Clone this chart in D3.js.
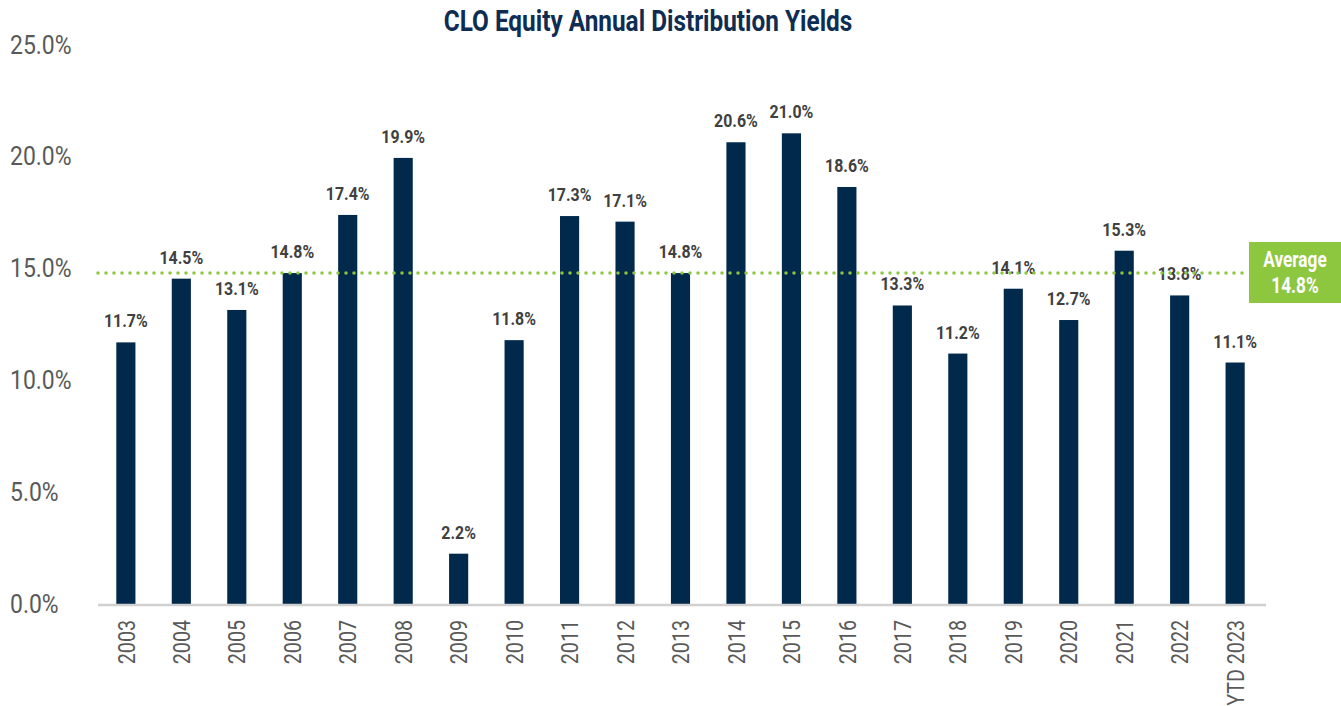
<!DOCTYPE html>
<html>
<head>
<meta charset="utf-8">
<script src="https://cdn.jsdelivr.net/npm/d3@7"></script>
<style>
  body { margin: 0; background: #fff; }
  text { font-family: Roboto, "Liberation Sans", sans-serif; }
</style>
</head>
<body>
<div id="chart"></div>
<script>
const years = ["2003", "2004", "2005", "2006", "2007", "2008", "2009", "2010", "2011", "2012", "2013",
  "2014", "2015", "2016", "2017", "2018", "2019", "2020", "2021", "2022", "YTD 2023"];
// bar heights as drawn in the picture
const barValues = [11.7, 14.55, 13.15, 14.8, 17.4, 19.95, 2.25, 11.8, 17.35, 17.1, 14.8,
  20.65, 21.05, 18.65, 13.35, 11.2, 14.1, 12.7, 15.8, 13.8, 10.8];
// value labels as printed
const labelValues = ["11.7%", "14.5%", "13.1%", "14.8%", "17.4%", "19.9%", "2.2%", "11.8%", "17.3%", "17.1%", "14.8%",
  "20.6%", "21.0%", "18.6%", "13.3%", "11.2%", "14.1%", "12.7%", "15.3%", "13.8%", "11.1%"];
const yTicks = [0, 5, 10, 15, 20, 25];
const average = 14.8;

const W = 1341, H = 706;
const margin = { top: 45, right: 78, bottom: 102, left: 98 };
const width = W - margin.left - margin.right;
const height = H - margin.top - margin.bottom;

const svg = d3.select("#chart").append("svg")
  .attr("width", W).attr("height", H);

// condensed look: horizontally squeezed bold text
function condText(parent, cx, cy, str, size, sx, fill) {
  return parent.append("text")
    .attr("transform", `translate(${cx},${cy}) scale(${sx},1)`)
    .attr("text-anchor", "middle")
    .style("font-size", size + "px").style("font-weight", "bold")
    .attr("fill", fill)
    .text(str);
}

// title
condText(svg, 648, 31, "CLO Equity Annual Distribution Yields", 29, 0.84, "#0f2d52");

const g = svg.append("g").attr("transform", `translate(${margin.left},${margin.top})`);

const x = d3.scaleBand().domain(years).range([0, width]).paddingInner(0.655).paddingOuter(0.33);
const y = d3.scaleLinear().domain([0, 25]).range([height, 0]);

// y axis labels (no line)
const ySx = 0.9;
const yAxis = g.append("g")
  .call(d3.axisLeft(y).tickValues(yTicks).tickSize(0).tickFormat(d => d.toFixed(1) + "%"));
yAxis.select(".domain").remove();
yAxis.selectAll("text")
  .attr("text-anchor", "start").attr("x", -88 / ySx)
  .attr("transform", `scale(${ySx},1)`)
  .style("font-size", "25.5px").attr("fill", "#595959");

// bars
g.selectAll(".bar")
  .data(years)
  .join("rect")
  .attr("class", "bar")
  .attr("x", d => x(d))
  .attr("width", x.bandwidth())
  .attr("y", (d, i) => y(barValues[i]))
  .attr("height", (d, i) => y(0) - y(barValues[i]))
  .attr("fill", "#00294c");

// value labels
years.forEach((d, i) => {
  condText(g, x(d) + x.bandwidth() / 2, y(barValues[i]) - 15, labelValues[i], 18.5, 0.86, "#404040");
});

// x axis
const xSx = 0.82;
const xAxis = g.append("g")
  .attr("transform", `translate(0,${height + 1})`)
  .call(d3.axisBottom(x).tickSize(0).tickPadding(0));
xAxis.select(".domain").attr("stroke", "#d0d0d0").attr("stroke-width", 2.5)
  .attr("d", `M0,0H${width + 3}`);
xAxis.selectAll("text")
  .attr("transform", `rotate(-90) scale(${xSx},1)`)
  .attr("text-anchor", "end")
  .attr("x", -15 / xSx).attr("y", 0).attr("dy", "0.36em")
  .style("font-size", "24px").attr("fill", "#595959");

// average line
g.append("line")
  .attr("x1", 0).attr("x2", width - 16)
  .attr("y1", y(average)).attr("y2", y(average))
  .attr("stroke", "#8dc63f").attr("stroke-width", 3.5)
  .attr("stroke-linecap", "round")
  .attr("stroke-dasharray", "0,8");

// average box
const bx = 1249, by = 242;
svg.append("rect")
  .attr("x", bx).attr("y", by).attr("width", W - bx).attr("height", 61)
  .attr("fill", "#8dc63f");
condText(svg, 1295, 267, "Average", 21.5, 0.8, "#fff");
condText(svg, 1295, 293, average.toFixed(1) + "%", 21.5, 0.8, "#fff");
</script>
</body>
</html>
